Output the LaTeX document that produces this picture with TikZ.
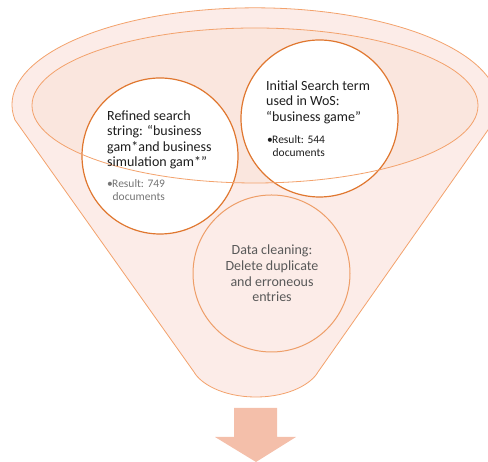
\documentclass[tikz,border=0pt]{standalone}
\usepackage{fontspec}
\setmainfont{Carlito}
\definecolor{funfill}{HTML}{FCECE8}
\definecolor{ellfill}{HTML}{FAE6DE}
\definecolor{funline}{HTML}{F3A26C}
\definecolor{circline}{HTML}{E0772F}
\definecolor{botline}{HTML}{EE9E68}
\definecolor{arrowfill}{HTML}{F4BFAA}
\definecolor{maintext}{HTML}{1E1E1E}
\definecolor{graytext}{HTML}{767676}
\definecolor{midtext}{HTML}{595959}
\begin{document}
\begin{tikzpicture}[x=1pt,y=1pt,
  funnelline/.style={draw=funline,line width=0.8pt},
  topcirc/.style={circle,draw=circline,line width=1.2pt,fill=white,minimum size=#1,inner sep=0pt},
  botcirc/.style={circle,draw=botline,line width=1pt,minimum size=#1,inner sep=0pt},
  maintxt/.style={inner sep=0pt,align=left,anchor=north west,text=maintext,font=\fontsize{14}{15.5}\selectfont},
  bullettxt/.style={inner sep=0pt,align=left,anchor=north west,font=\fontsize{11.5}{13}\selectfont},
]
\useasboundingbox (0,0) rectangle (488,462);
\clip (0,0) rectangle (488,462);
% funnel body
\path[fill=funfill,funnelline] (15,342) arc[start angle=189,end angle=-9,x radius=243,y radius=97]
  -- (318,90) .. controls (312,79) and (290,65) .. (256,65)
  .. controls (222,65) and (200,79) .. (194,90) -- cycle;
% inner ellipse fill
\fill[ellfill] (255,356.5) ellipse[x radius=223,y radius=77.5];
% circles
\node[topcirc=156pt] (left) at (160,306) {};
\node[topcirc=157pt] (right) at (319.5,343.5) {};
\node[botcirc=157pt] (bottom) at (271.5,188.5) {};
% inner ellipse outline on top
\draw[funnelline] (255,356.5) ellipse[x radius=223,y radius=77.5];
% texts
\node[maintxt] (lefttext) at (107,351.5) {Refined search\\string: “business\\gam*and business\\simulation gam*”};
\node[bullettxt,text=graytext] (leftres) at (107,282.5) {\makebox[5pt][l]{•}Result: 749\\\hspace*{5.5pt}documents};
\node[maintxt] (righttext) at (266,381.5) {Initial Search term\\used in WoS:\\“business game”};
\node[bullettxt,text=maintext] (rightres) at (267,327) {\makebox[5pt][l]{•}Result: 544\\\hspace*{5.5pt}documents};
\node[inner sep=0pt,align=center,text=midtext,font=\fontsize{14}{15.6}\selectfont] (bottomtext) at (272,188.5) {Data cleaning:\\Delete duplicate\\and erroneous\\entries};
% arrow
\fill[arrowfill] (234,54) -- (277,54) -- (277,25) -- (296,25) -- (256,0) -- (215,25) -- (234,25) -- cycle;
\end{tikzpicture}
\end{document}
